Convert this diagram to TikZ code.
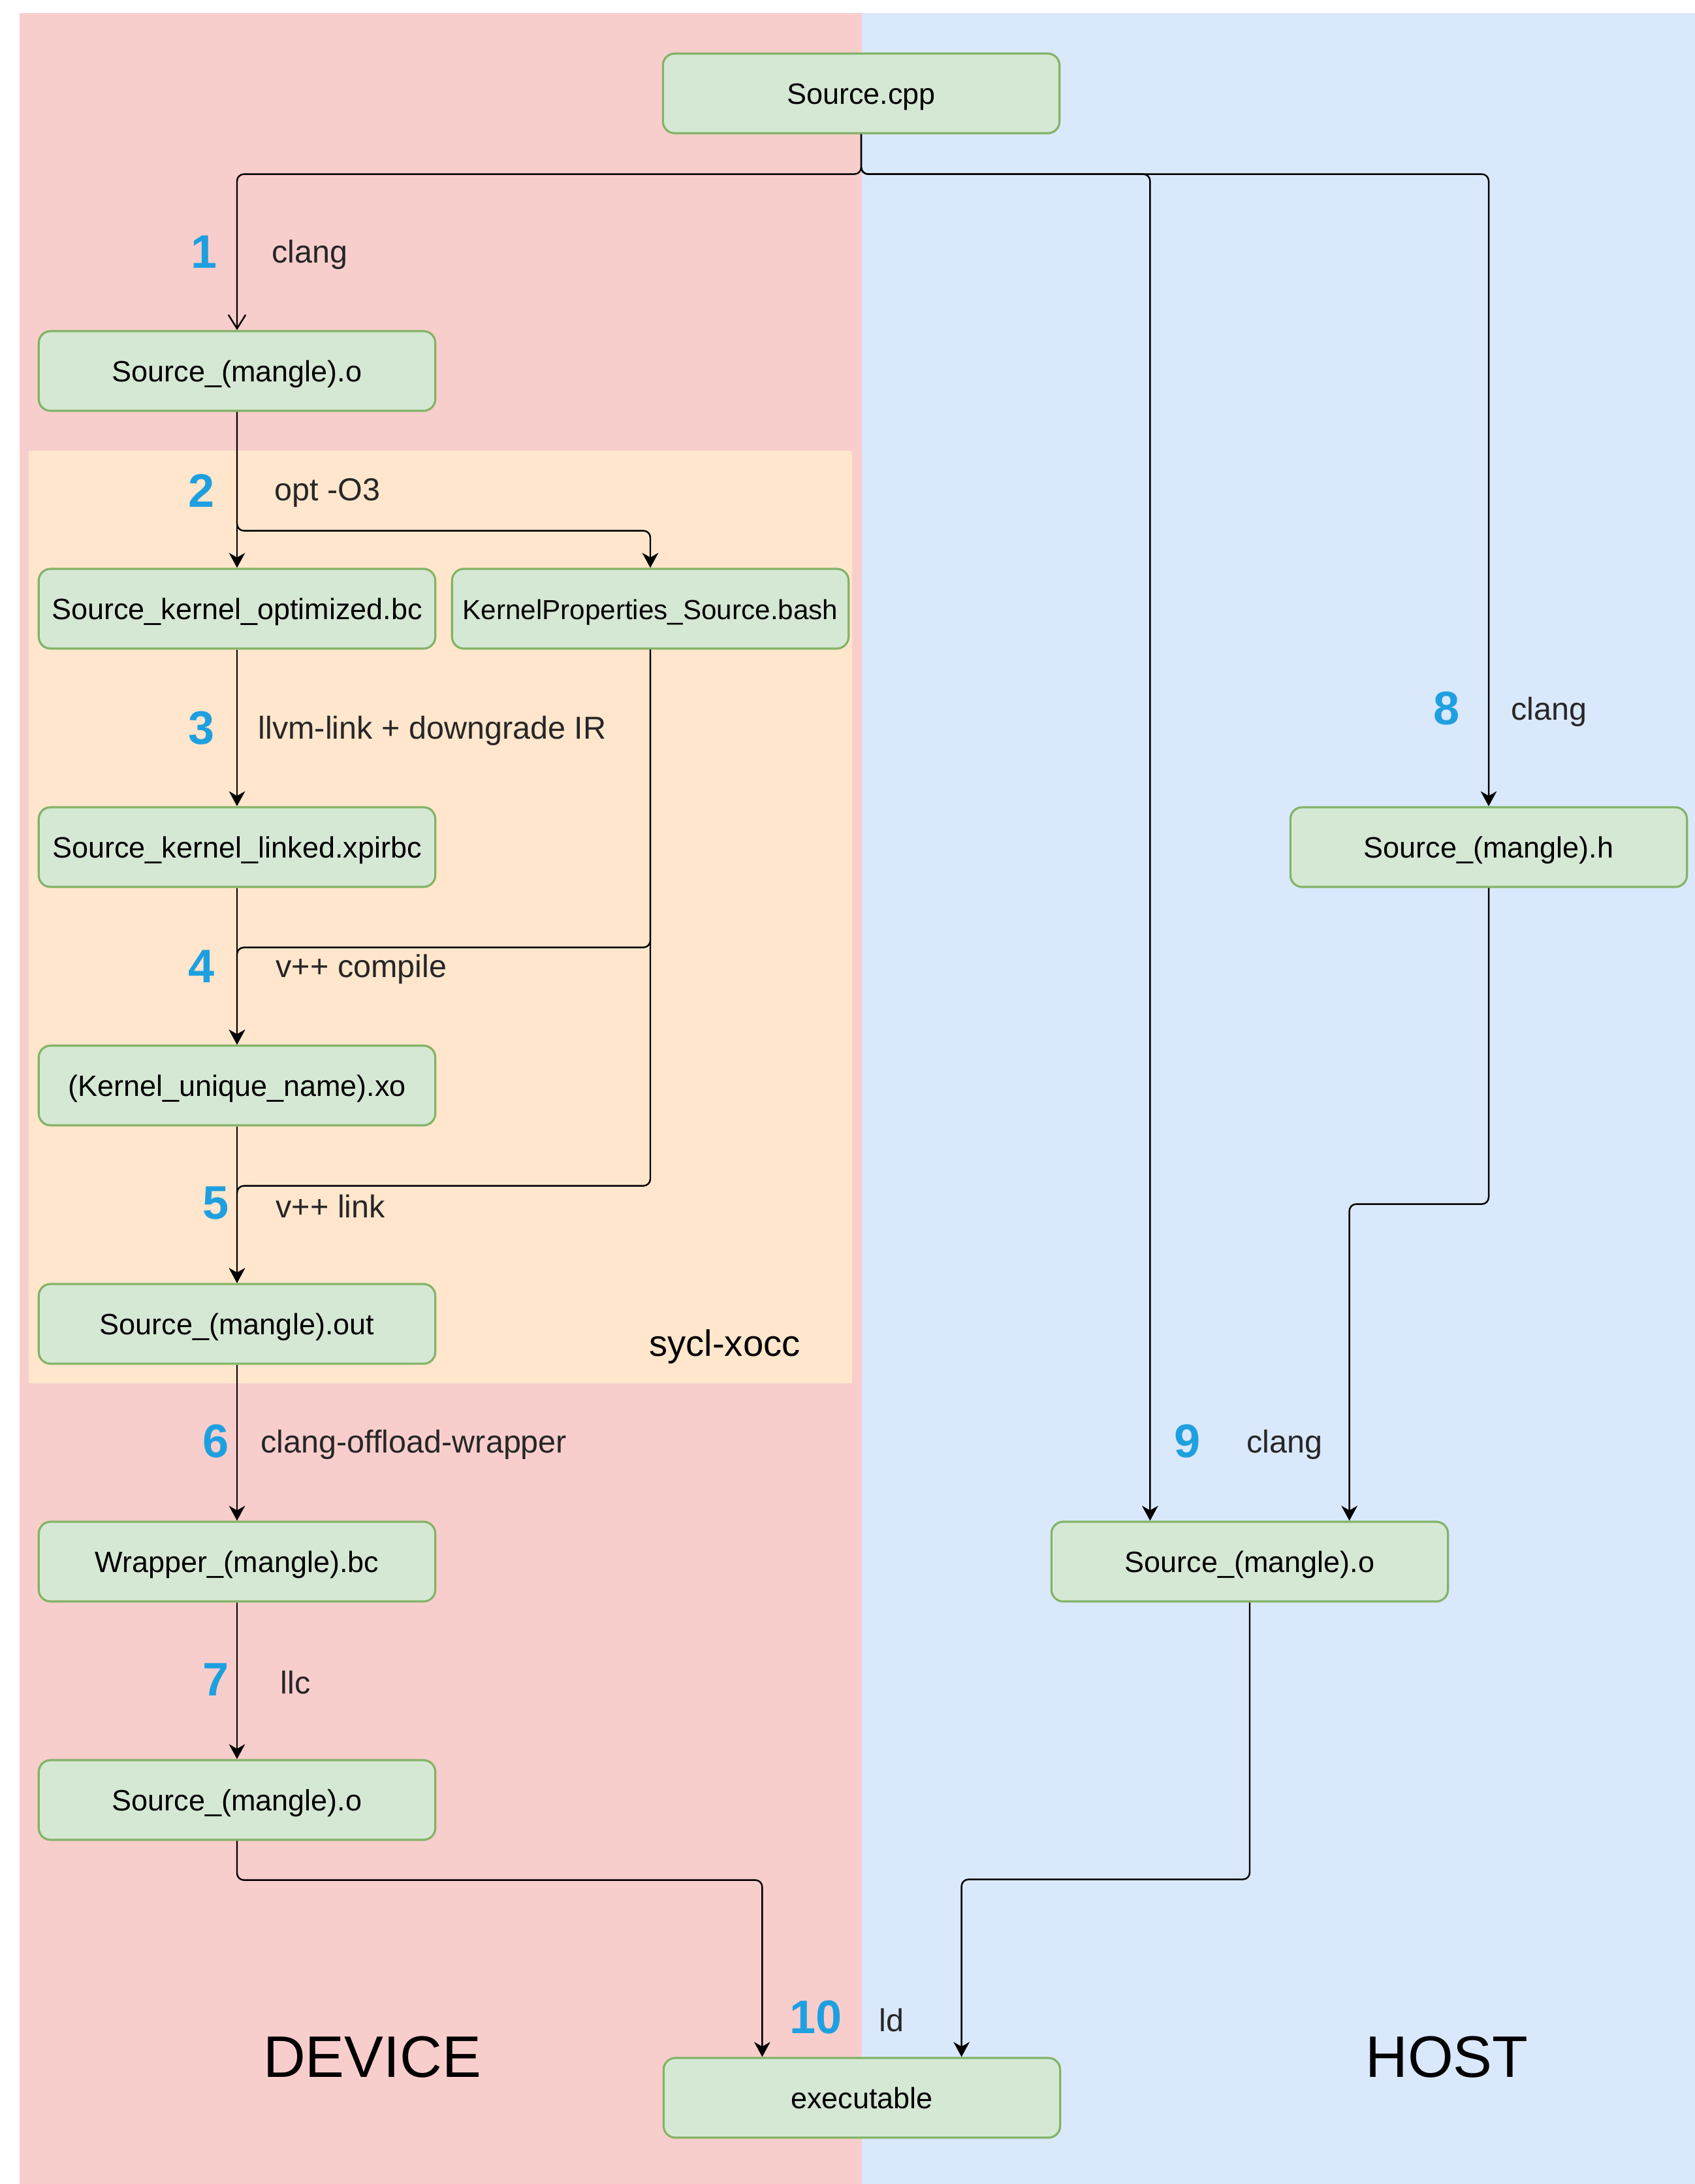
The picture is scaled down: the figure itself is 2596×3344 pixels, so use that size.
\documentclass[tikz,border=0pt]{standalone}
\usepackage{fontspec}
\setmainfont{Liberation Sans}
\usetikzlibrary{arrows.meta, calc}
\definecolor{devicebg}{RGB}{248,206,204}
\definecolor{hostbg}{RGB}{218,232,252}
\definecolor{xoccbg}{RGB}{255,230,204}
\definecolor{filefill}{RGB}{213,232,212}
\definecolor{fileline}{RGB}{130,179,102}
\definecolor{stepblue}{RGB}{30,160,224}

\begin{document}
\begin{tikzpicture}[x=0.01cm, y=-0.01cm,
  filebox/.style={draw=fileline, fill=filefill, line width=0.9pt, rounded corners=0.18cm,
    minimum width=6.07cm, minimum height=1.22cm, inner sep=0pt,
    text height=10pt, text depth=0.8pt,
    font=\fontsize{12.8}{15}\selectfont},
  flow/.style={line width=0.7pt, rounded corners=3pt,
    -{Stealth[length=6.5pt, width=7pt, inset=2pt]}},
  steplabel/.style={anchor=west, inner sep=0pt, text=black!85,
    font=\fontsize{13.8}{16}\selectfont},
  stepnum/.style={inner sep=0pt, text=stepblue, font=\fontsize{20.5}{24}\selectfont\bfseries}]
\useasboundingbox (0,0) rectangle (2596,3344);

% Lanes
\fill[devicebg] (30,20) rectangle (1320,3344);
\fill[hostbg] (1320,20) rectangle (2596,3344);
\fill[xoccbg] (44,690) rectangle (1305,2118);
\node[font=\fontsize{16}{19}\selectfont] (xocc) at (1110,2062) {sycl-xocc};
\node[font=\fontsize{25.5}{30}\selectfont] (device) at (570,3150) {DEVICE};
\node[font=\fontsize{25.5}{30}\selectfont] (host) at (2216,3150) {HOST};

% Files
\node[filebox] (src) at (1319,143) {Source.cpp};
\node[filebox] (dobj) at (363,568) {Source\_(mangle).o};
\node[filebox] (kopt) at (363,932) {Source\_kernel\_optimized.bc};
\node[filebox, font=\fontsize{12}{14}\selectfont] (kprop) at (996,932) {KernelProperties\_Source.bash};
\node[filebox] (klink) at (363,1297) {Source\_kernel\_linked.xpirbc};
\node[filebox] (kxo) at (363,1662) {(Kernel\_unique\_name).xo};
\node[filebox] (kout) at (363,2027) {Source\_(mangle).out};
\node[filebox] (wrap) at (363,2391) {Wrapper\_(mangle).bc};
\node[filebox] (dobjb) at (363,2756) {Source\_(mangle).o};
\node[filebox] (hdr) at (2280,1297) {Source\_(mangle).h};
\node[filebox] (hobj) at (1914,2391) {Source\_(mangle).o};
\node[filebox] (exe) at (1320,3212) {executable};

% Device flow
\draw[flow, -{Straight Barb[length=6pt, width=7.5pt]}] (src.south) -- ++(0,61) -| (dobj.north);
\draw[flow] (dobj.south) -- (kopt.north);
\draw[flow] (dobj.south) -- ++(0,182) -| (kprop.north);
\draw[flow] (kopt.south) -- (klink.north);
\draw[flow] (klink.south) -- (kxo.north);
\draw[flow] (kprop.south) -- ++(0,456) -| (kxo.north);
\draw[flow] (kxo.south) -- (kout.north);
\draw[flow] (kprop.south) -- ++(0,821) -| (kout.north);
\draw[flow] (kout.south) -- (wrap.north);
\draw[flow] (wrap.south) -- (dobjb.north);
\draw[flow] (dobjb.south) -- ++(0,60) -| ($(exe.north west)!0.25!(exe.north east)$);

% Host flow
\draw[flow] (src.south) -- ++(0,61) -| ($(hobj.north west)!0.25!(hobj.north east)$);
\draw[flow] (src.south) -- ++(0,61) -| (hdr.north);
\draw[flow] (hdr.south) -- ++(0,484) -| ($(hobj.north west)!0.75!(hobj.north east)$);
\draw[flow] (hobj.south) -- ++(0,424) -| ($(exe.north west)!0.75!(exe.north east)$);

% Steps
\node[stepnum] (n1) at (313,386) {1};
\node[steplabel] (t1) at (416,390) {clang};
\node[stepnum] (n2) at (309,751) {2};
\node[steplabel] (t2) at (420,755) {opt -O3};
\node[stepnum] (n3) at (309,1115) {3};
\node[steplabel] (t3) at (395,1119) {llvm-link + downgrade IR};
\node[stepnum] (n4) at (309,1480) {4};
\node[steplabel] (t4) at (422,1484) {v++ compile};
\node[stepnum] (n5) at (331,1842) {5};
\node[steplabel] (t5) at (422,1847) {v++ link};
\node[stepnum] (n6) at (331,2207) {6};
\node[steplabel] (t6) at (399,2212) {clang-offload-wrapper};
\node[stepnum] (n7) at (331,2572) {7};
\node[steplabel] (t7) at (429,2576) {llc};
\node[stepnum] (n8) at (2216,1085) {8};
\node[steplabel] (t8) at (2314,1090) {clang};
\node[stepnum] (n9) at (1819,2207) {9};
\node[steplabel] (t9) at (1909,2212) {clang};
\node[stepnum] (n10) at (1250,3089) {10};
\node[steplabel] (t10) at (1346,3093) {ld};
\end{tikzpicture}
\end{document}
